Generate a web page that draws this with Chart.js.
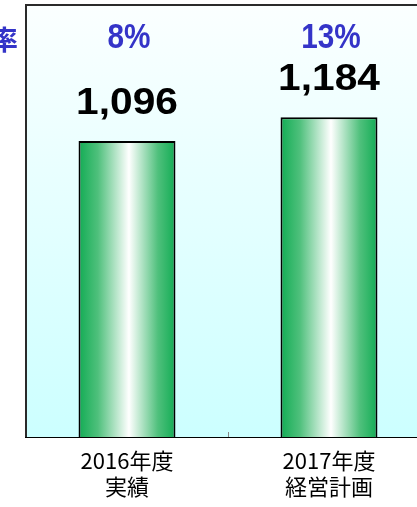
<!DOCTYPE html>
<html>
<head>
<meta charset="utf-8">
<script src="https://cdn.jsdelivr.net/npm/chart.js@4/dist/chart.umd.min.js"></script>
<style>
  html, body { margin: 0; padding: 0; background: #fff; overflow: hidden; }
  #wrap { position: relative; width: 430px; height: 507px; }
</style>
</head>
<body>
<div id="wrap"><canvas id="chart"></canvas></div>
<script>
const categories = [['2016年度', '実績'], ['2017年度', '経営計画']];
const sales = [1096, 1184];
const growth = ['8%', '13%'];
const axisTitleTail = '率';

const BAR_PCT = 0.48;

// horizontal "cylinder" gradient for each bar
function barFill(c) {
  const chart = c.chart;
  const x = chart.scales.x;
  if (!x || !chart.chartArea) return '#20b05a';
  const cx = x.getPixelForValue(c.dataIndex);
  const half = (x.width / categories.length) * BAR_PCT / 2;
  const g = chart.ctx.createLinearGradient(cx - half, 0, cx + half, 0);
  g.addColorStop(0, '#12ac54');
  g.addColorStop(0.2, '#4fc07c');
  g.addColorStop(0.52, '#ffffff');
  g.addColorStop(0.82, '#4fc07c');
  g.addColorStop(1, '#12ac54');
  return g;
}

const frame = {
  id: 'frame',
  beforeDatasetsDraw(chart) {
    const { ctx, chartArea: a } = chart;
    const g = ctx.createLinearGradient(0, a.top, 0, a.bottom);
    g.addColorStop(0, '#fbffff');
    g.addColorStop(1, '#ccffff');
    ctx.save();
    ctx.fillStyle = g;
    ctx.fillRect(a.left, a.top, a.right - a.left, a.bottom - a.top);
    ctx.strokeStyle = '#2a2a2a';
    ctx.lineWidth = 2;
    ctx.beginPath();
    ctx.moveTo(a.left, a.bottom);
    ctx.lineTo(a.left, a.top);
    ctx.lineTo(a.right, a.top);
    ctx.stroke();
    // small tick between the two categories
    const x = chart.scales.x;
    const mid = Math.round((x.getPixelForValue(0) + x.getPixelForValue(1)) / 2) + 0.5;
    ctx.strokeStyle = '#888';
    ctx.lineWidth = 1;
    ctx.beginPath();
    ctx.moveTo(mid, a.bottom);
    ctx.lineTo(mid, a.bottom - 5);
    ctx.stroke();
    ctx.restore();
  },
  afterDatasetsDraw(chart) {
    const { ctx, chartArea: a } = chart;
    const x = chart.scales.x, y = chart.scales.y;
    ctx.save();
    ctx.textAlign = 'center';
    ctx.textBaseline = 'middle';
    sales.forEach((v, i) => {
      const cx = x.getPixelForValue(i);
      const top = y.getPixelForValue(v);
      // value
      ctx.save();
      ctx.translate(cx, top - 37.5);
      ctx.scale(1.13, 1);
      ctx.fillStyle = '#000';
      ctx.font = 'bold 36px "Liberation Sans", Arial, sans-serif';
      ctx.fillText(v.toLocaleString('en-US'), 0, 0);
      ctx.restore();
      // growth rate
      ctx.save();
      ctx.translate(cx + 2, a.top + 33);
      ctx.scale(0.85, 1);
      ctx.fillStyle = '#3434c8';
      ctx.font = 'bold 35px "Liberation Sans", Arial, sans-serif';
      ctx.fillText(growth[i], 0, 0);
      ctx.restore();
    });
    // clipped tail of the left axis title
    ctx.textAlign = 'right';
    ctx.fillStyle = '#3434c8';
    ctx.font = 'bold 27px "Noto Sans CJK JP", sans-serif';
    ctx.fillText(axisTitleTail, 18, 40);
    ctx.restore();
  }
};

new Chart(document.getElementById('chart'), {
  type: 'bar',
  data: {
    labels: categories,
    datasets: [{
      data: sales,
      backgroundColor: barFill,
      borderColor: '#000',
      borderWidth: 2,
      borderSkipped: 'bottom',
      barPercentage: BAR_PCT,
      categoryPercentage: 1
    }]
  },
  options: {
    responsive: true,
    maintainAspectRatio: false,
    animation: false,
    layout: { padding: { left: 26, top: 5, right: 0, bottom: 0 } },
    plugins: {
      legend: { display: false },
      tooltip: { enabled: false },
      title: { display: false }
    },
    scales: {
      x: {
        grid: { display: false, drawTicks: false },
        border: { display: true, color: '#000', width: 2 },
        ticks: {
          color: '#000',
          padding: 11,
          maxRotation: 0,
          autoSkip: false,
          font: { family: '"Noto Sans CJK JP", sans-serif', size: 22, lineHeight: 1.16 }
        },
        afterFit: (s) => { s.height = 70; }
      },
      y: {
        display: false,
        min: 0,
        max: 1600
      }
    }
  },
  plugins: [frame]
});
</script>
</body>
</html>
